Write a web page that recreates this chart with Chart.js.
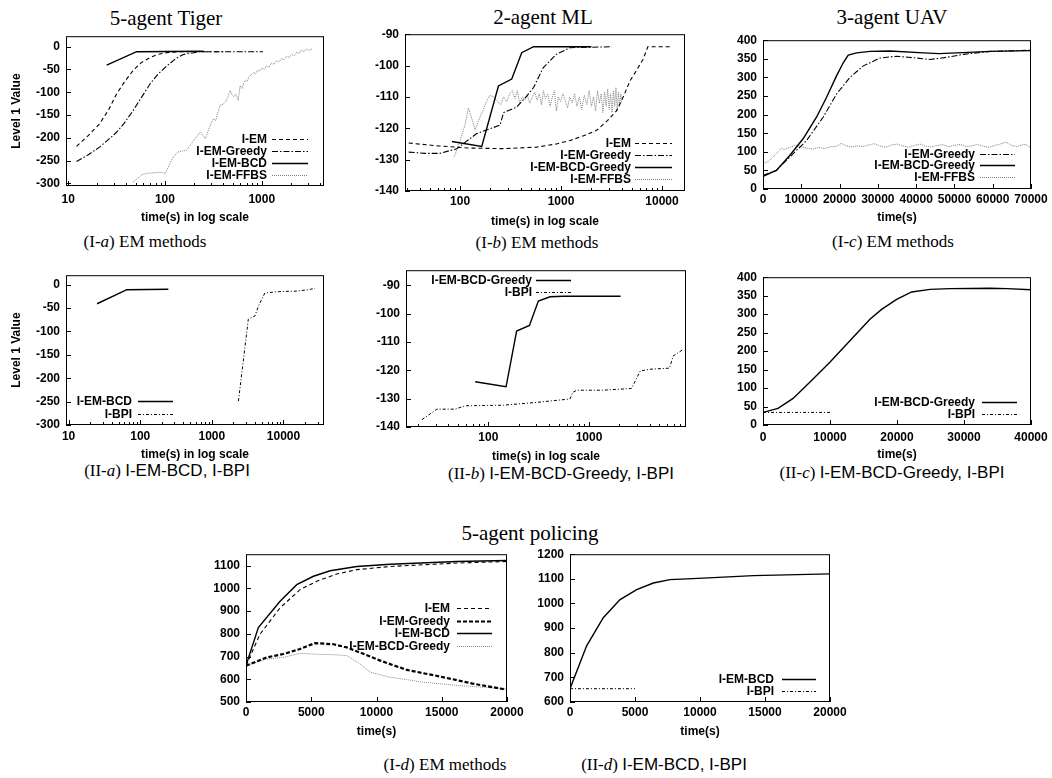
<!DOCTYPE html>
<html>
<head>
<meta charset="utf-8">
<script src="https://cdn.jsdelivr.net/npm/chart.js"></script>
<style>
html, body { margin: 0; padding: 0; background: #fff; }
#page { position: relative; width: 1052px; height: 778px; overflow: hidden; }
#page canvas { position: absolute; }
.ttl { position: absolute; font-family: "Liberation Serif", serif; font-size: 21px; white-space: nowrap; transform: translate(-50%, -50%); }
.cap { position: absolute; font-family: "Liberation Serif", serif; font-size: 17px; white-space: nowrap; transform: translate(-50%, -50%); }
.cap .s { font-family: "Liberation Sans", Arial, sans-serif; }
</style>
</head>
<body>
<div id="page">
  <div class="ttl" style="left:166px;top:18px">5-agent Tiger</div>
  <div class="ttl" style="left:543px;top:17px">2-agent ML</div>
  <div class="ttl" style="left:892px;top:17px">3-agent UAV</div>
  <div class="ttl" style="left:530px;top:533px">5-agent policing</div>

  <div class="cap" style="left:145px;top:242px">(I-<i>a</i>) EM methods</div>
  <div class="cap" style="left:537px;top:243px">(I-<i>b</i>) EM methods</div>
  <div class="cap" style="left:893px;top:242px">(I-<i>c</i>) EM methods</div>
  <div class="cap" style="left:167px;top:471px">(II-<i>a</i>) <span class="s">I-EM-BCD, I-BPI</span></div>
  <div class="cap" style="left:561px;top:474px">(II-<i>b</i>) <span class="s">I-EM-BCD-Greedy, I-BPI</span></div>
  <div class="cap" style="left:892px;top:473px">(II-<i>c</i>) <span class="s">I-EM-BCD-Greedy, I-BPI</span></div>
  <div class="cap" style="left:445px;top:765px">(I-<i>d</i>) EM methods</div>
  <div class="cap" style="left:664px;top:765px">(II-<i>d</i>) <span class="s">I-EM-BCD, I-BPI</span></div>
</div>
<script>
// ---- data: [time(s), level 1 value] ----

// (I-a) 5-agent Tiger
const tigerEM = [[12.2,-219],[16,-196],[21,-170],[26,-140],[31.6,-104],[38,-78],[47,-52],[57,-35],[70,-24],[85,-17],[105,-13],[140,-11],[400,-11]];
const tigerGreedy = [[12.2,-252],[16,-238],[21.3,-220],[26,-204],[31.6,-188],[38,-168],[47,-140],[57,-112],[70,-82],[85,-60],[105,-42],[130,-26],[155,-17],[230,-11],[1030,-11]];
const tigerBCD = [[25,-40.5],[51,-11],[250,-10]];
const tigerFFBS = [[47,-297],[52,-290],[58,-281],[66,-278],[78,-277],[90,-276],[101,-278],[112,-258],[122,-242],[135,-232],[150,-229],[167,-228],[180,-218],[200,-205],[222,-192],[235,-188],[248,-196],[262,-202],[280,-185],[300,-168],[318,-158],[335,-162],[352,-145],[372,-128],[395,-127],[420,-122],[445,-112],[472,-96],[495,-106],[515,-110],[540,-104],[573,-118],[597,-86],[625,-92],[650,-80],[680,-74],[710,-76],[740,-66],[780,-62],[818,-57],[860,-60],[900,-52],[950,-54],[1000,-47],[1060,-50],[1120,-42],[1190,-45],[1260,-36],[1340,-39],[1420,-31],[1500,-34],[1600,-26],[1700,-29],[1800,-21],[1920,-24],[2040,-17],[2170,-20],[2300,-12],[2440,-15],[2570,-7],[2720,-11],[2880,-5],[3050,-8],[3300,-5]];

// (I-b) 2-agent ML
const mlEM = [[31,-124.7],[60,-125.6],[120,-126.3],[270,-126.5],[575,-126],[900,-125],[1230,-123.9],[1700,-122.3],[2240,-120.7],[2900,-117.5],[3550,-114.4],[4200,-109.5],[4800,-105],[5600,-101.5],[6500,-98],[7240,-94],[12000,-94]];
const mlGreedy = [[31,-127.6],[45,-128],[63,-128],[93,-126.5],[146,-121.7],[249,-119],[270,-115],[363,-113.3],[450,-110],[535,-107],[665,-100.7],[900,-96.4],[1230,-94.3],[3200,-94]];
const mlBCDGreedy = [[83,-124.2],[164,-125.8],[240,-106.5],[325,-104.3],[408,-95.9],[535,-94],[2000,-94]];
const mlFFBS = [[88,-129],[100,-124],[112,-119],[121,-113.5],[131,-117],[141,-120.5],[155,-117],[170,-114],[185,-111],[198,-109.5],[215,-110],[235,-111.5],[252,-112.5],[270,-110],[290,-111.5],[310,-109],[330,-108],[350,-110.5],[370,-108],[390,-112],[415,-110],[440,-111],[465,-109.5],[490,-112],[520,-110],[550,-108.5],[580,-111],[610,-109],[640,-112.5],[670,-108],[700,-110.5],[740,-109],[780,-113],[820,-110],[860,-108],[900,-114.5],[940,-110],[990,-111.5],[1040,-109],[1100,-111],[1160,-113.5],[1220,-110],[1290,-112],[1360,-109],[1440,-113],[1520,-110],[1600,-114],[1700,-109.5],[1800,-112.5],[1900,-108],[2000,-113],[2100,-110],[2200,-114.5],[2300,-108],[2400,-112],[2500,-109],[2600,-115],[2700,-108.5],[2800,-113],[2900,-107.5],[3000,-114],[3100,-109],[3200,-115],[3300,-108],[3400,-113],[3500,-107],[3600,-114.5],[3700,-108.5],[3800,-113],[3900,-109],[4000,-112]];

// (I-c) 3-agent UAV
const uavGreedy = [[0,37],[3500,50],[7000,86],[11350,130],[15700,193],[19200,255],[22700,300],[26200,331],[30550,352],[34900,357],[40150,352],[43600,348],[48000,354],[52400,362],[59400,370],[70000,373]];
const uavBCDGreedy = [[0,34],[3490,50],[6980,90],[10470,135],[13970,193],[16580,246],[19200,304],[21000,340],[22260,360],[24440,366],[27930,370],[33170,371],[41900,366],[46000,364],[50630,366],[59360,370],[70000,372]];
const uavFFBS = [[0,68],[1500,75],[2600,86],[3800,98],[4800,110],[5500,106],[7000,112],[8500,118],[10000,113],[11500,110],[13100,107],[14500,112],[16000,109],[17500,113],[19200,115],[20500,123],[21500,117],[23000,113],[24500,116],[26000,114],[27500,118],[29000,122],[30500,116],[32000,112],[33500,118],[35000,121],[36500,116],[38000,112],[39500,117],[41000,121],[42500,115],[44000,113],[45500,117],[47000,119],[48500,114],[50000,117],[51500,120],[53000,114],[54500,116],[56000,120],[57500,115],[59000,112],[60500,117],[62000,121],[63500,126],[65000,117],[66500,114],[68000,120],[69000,118],[70000,110]];

// (II-a) Tiger, I-EM-BCD vs I-BPI
const tiger2BCD = [[25,-41],[65,-11],[247,-10]];
const tiger2BPI = [[2350,-249],[3230,-74],[4000,-67],[4470,-46],[5500,-18],[8900,-15],[15000,-14],[20000,-12],[24000,-10],[27600,-8]];

// (II-b) ML, I-EM-BCD-Greedy vs I-BPI
const ml2BCDGreedy = [[74,-124],[150,-125.8],[191,-106.1],[256,-104.1],[314,-95.5],[410,-94],[556,-93.8],[2060,-93.8]];
const ml2BPI = [[21.9,-137.4],[30.8,-133.7],[46.7,-133.7],[58.6,-132.5],[141,-132.3],[302,-131.3],[648,-130.1],[690,-127.8],[756,-127],[1380,-127],[2640,-126.4],[3230,-120.2],[4020,-119.6],[6300,-119.2],[6870,-114.9],[8700,-112.5]];

// (II-c) UAV, I-EM-BCD-Greedy vs I-BPI
const uav2BCDGreedy = [[0,34],[2240,45],[4490,72],[6980,116],[9980,170],[12970,228],[15960,286],[17700,313],[19950,340],[22190,360],[24940,367],[27930,369],[33900,370],[36400,369],[40000,366]];
const uav2BPI = [[0,34],[10000,34]];

// (I-d) 5-agent policing
const polEM = [[0,660],[1070,798],[2610,914],[4140,994],[5420,1031],[6960,1063],[8490,1082],[11050,1096],[16160,1111],[20000,1118]];
const polGreedy = [[0,660],[1590,696],[2860,711],[4140,733],[5290,759],[6700,754],[7720,740],[9260,706],[10280,682],[12330,641],[14880,612],[17440,580],[20000,554]];
const polBCD = [[0,660],[946,827],[2610,943],[3890,1016],[5170,1053],[6450,1077],[8490,1096],[11050,1106],[16160,1118],[20000,1122]];
const polBCDGreedy = [[0,660],[1590,689],[2860,696],[4140,714],[5420,710],[6700,708],[7720,704],[8750,667],[9510,631],[11050,609],[13600,587],[16160,573],[20000,558]];

// (II-d) policing, I-EM-BCD vs I-BPI
const pol2BCD = [[0,654],[1280,828],[2560,942],[3850,1016],[5130,1056],[6410,1083],[7690,1097],[10260,1103],[14100,1113],[20000,1120]];
const pol2BPI = [[0,654],[5000,654]];

// tick values
const tigerYTicks = [0, -50, -100, -150, -200, -250, -300];
const tigerXTicks = [10, 100, 1000];
const tiger2XTicks = [10, 100, 1000, 10000];
const mlYTicks = [-90, -100, -110, -120, -130, -140];
const mlXTicks = [100, 1000, 10000];
const ml2XTicks = [100, 1000];
const uavYTicks = [0, 50, 100, 150, 200, 250, 300, 350, 400];
const uavXTicks = [0, 10000, 20000, 30000, 40000, 50000, 60000, 70000];
const uav2XTicks = [0, 10000, 20000, 30000, 40000];
const polYTicks = [500, 600, 700, 800, 900, 1000, 1100];
const pol2YTicks = [600, 700, 800, 900, 1000, 1100, 1200];
const polXTicks = [0, 5000, 10000, 15000, 20000];

// ---- styles ----
const solid = { borderColor: '#000', borderWidth: 1.4, borderDash: [] };
const dashed = { borderColor: '#000', borderWidth: 1.1, borderDash: [4, 3] };
const dashDot = { borderColor: '#000', borderWidth: 1.1, borderDash: [6, 2, 1.5, 2] };
const dotted = { borderColor: '#808080', borderWidth: 1, borderDash: [1, 1] };
const bpiDash = { borderColor: '#000', borderWidth: 1, borderDash: [3, 2, 1, 2] };
const thickDash = { borderColor: '#000', borderWidth: 2.2, borderDash: [4, 2] };
const grayLine = { borderColor: '#8a8a8a', borderWidth: 1, borderDash: [1, 1] };

Chart.defaults.font.family = '"Liberation Sans", Arial, sans-serif';
Chart.defaults.font.weight = 'bold';
Chart.defaults.color = '#000';

// gnuplot-like frame, inward ticks and in-plot key
const gnuPlugin = {
  id: 'gnu',
  afterDatasetsDraw(chart, args, o) {
    const { ctx, chartArea: a } = chart;
    const x = chart.scales.x, y = chart.scales.y;
    ctx.save();
    ctx.strokeStyle = '#000';
    ctx.lineWidth = 1;
    ctx.setLineDash([]);
    ctx.beginPath();
    y.ticks.forEach(t => {
      const p = Math.round(y.getPixelForValue(t.value)) + 0.5;
      ctx.moveTo(a.left, p); ctx.lineTo(a.left + 5, p);
    });
    x.ticks.forEach(t => {
      const p = Math.round(x.getPixelForValue(t.value)) + 0.5;
      ctx.moveTo(p, a.bottom); ctx.lineTo(p, a.bottom - 5);
    });
    if (x.type === 'logarithmic') {
      for (let d = Math.floor(Math.log10(x.min)); d <= Math.ceil(Math.log10(x.max)); d++) {
        for (let m = 2; m <= 9; m++) {
          const v = m * Math.pow(10, d);
          if (v <= x.min || v >= x.max) continue;
          const p = Math.round(x.getPixelForValue(v)) + 0.5;
          ctx.moveTo(p, a.bottom); ctx.lineTo(p, a.bottom - 3);
        }
      }
    }
    ctx.stroke();
    ctx.strokeRect(a.left + 0.5, a.top + 0.5, a.right - a.left - 1, a.bottom - a.top - 1);

    const lg = o.legend;
    if (lg) {
      ctx.font = 'bold 12px "Liberation Sans", Arial, sans-serif';
      ctx.textAlign = 'right';
      ctx.textBaseline = 'middle';
      ctx.fillStyle = '#000';
      chart.data.datasets.forEach((ds, i) => {
        const yy = Math.round(lg.y + i * lg.dy) + 0.5;
        ctx.fillText(ds.label, lg.tx, yy);
        ctx.save();
        ctx.strokeStyle = ds.borderColor;
        ctx.lineWidth = ds.borderWidth;
        ctx.setLineDash(ds.borderDash || []);
        ctx.beginPath();
        ctx.moveTo(lg.x0, yy); ctx.lineTo(lg.x1, yy);
        ctx.stroke();
        ctx.restore();
      });
    }
    ctx.restore();
  }
};

const page = document.getElementById('page');

function makePanel(p) {
  const yw = p.yw, pt = 12, pr = 30;
  const xh = Math.round(p.xTitleY - p.B + 7);
  const left = p.L - yw, top = p.T - pt;
  const w = p.R - left + pr, h = p.B - top + xh;
  const cv = document.createElement('canvas');
  cv.width = w; cv.height = h;
  cv.style.left = left + 'px'; cv.style.top = top + 'px';
  cv.style.width = w + 'px'; cv.style.height = h + 'px';
  page.appendChild(cv);

  const datasets = p.series.map(s => Object.assign({
    label: s.label,
    data: s.data.map(([x, y]) => ({ x, y })),
    pointRadius: 0,
    tension: 0,
    fill: false
  }, s.style));

  const lg = p.legend;
  new Chart(cv, {
    type: 'line',
    data: { datasets },
    options: {
      responsive: false,
      animation: false,
      events: [],
      layout: { padding: { top: pt, right: pr, left: 0, bottom: 0 } },
      plugins: {
        legend: { display: false },
        tooltip: { enabled: false },
        gnu: {
          legend: {
            tx: lg.tx - left, x0: lg.x0 - left, x1: lg.x1 - left,
            y: lg.y - top, dy: lg.dy
          }
        }
      },
      scales: {
        x: {
          type: p.xLog ? 'logarithmic' : 'linear',
          min: p.xMin, max: p.xMax,
          grid: { display: false, drawTicks: false },
          border: { display: false },
          ticks: {
            padding: p.xTickY - p.B - 7.2,
            font: { size: 12, weight: 'bold' },
            color: '#000', autoSkip: false, maxRotation: 0,
            callback: v => String(v)
          },
          afterBuildTicks: s => { s.ticks = p.xTicks.map(v => ({ value: v })); },
          afterFit: s => { s.height = xh; },
          title: {
            display: true, text: p.xTitle,
            font: { size: 12, weight: 'bold' }, color: '#000',
            padding: { top: 0, bottom: 0 }
          }
        },
        y: {
          type: 'linear',
          min: p.yMin, max: p.yMax,
          grid: { display: false, drawTicks: false },
          border: { display: false },
          ticks: {
            padding: 6,
            font: { size: 12, weight: 'bold' },
            color: '#000', autoSkip: false,
            callback: v => String(v)
          },
          afterBuildTicks: s => { s.ticks = p.yTicks.map(v => ({ value: v })); },
          afterFit: s => { s.width = yw; },
          title: {
            display: !!p.yTitle, text: p.yTitle || '',
            font: { size: 12, weight: 'bold' }, color: '#000',
            padding: { top: p.yTitle ? p.yTitleX - left - 7.2 : 0, bottom: 0 }
          }
        }
      }
    },
    plugins: [gnuPlugin]
  });
}

const logTitle = 'time(s) in log scale';

makePanel({
  L: 66, T: 35, R: 324, B: 186, yw: 66, xTickY: 200, xTitleY: 218,
  xLog: true, xMin: 9.5, xMax: 4400, xTicks: tigerXTicks, xTitle: logTitle,
  yMin: -306, yMax: 23, yTicks: tigerYTicks, yTitle: 'Level 1 Value', yTitleX: 17,
  legend: { tx: 267, x0: 272, x1: 308, y: 139, dy: 12 },
  series: [
    { label: 'I-EM', data: tigerEM, style: dashed },
    { label: 'I-EM-Greedy', data: tigerGreedy, style: dashDot },
    { label: 'I-EM-BCD', data: tigerBCD, style: solid },
    { label: 'I-EM-FFBS', data: tigerFFBS, style: dotted }
  ]
});

makePanel({
  L: 405, T: 33, R: 685, B: 191, yw: 50, xTickY: 202, xTitleY: 222,
  xLog: true, xMin: 28.5, xMax: 16900, xTicks: mlXTicks, xTitle: logTitle,
  yMin: -140, yMax: -90, yTicks: mlYTicks,
  legend: { tx: 631, x0: 635, x1: 672, y: 143, dy: 12 },
  series: [
    { label: 'I-EM', data: mlEM, style: dashed },
    { label: 'I-EM-Greedy', data: mlGreedy, style: dashDot },
    { label: 'I-EM-BCD-Greedy', data: mlBCDGreedy, style: solid },
    { label: 'I-EM-FFBS', data: mlFFBS, style: dotted }
  ]
});

makePanel({
  L: 763, T: 39, R: 1031, B: 189, yw: 50, xTickY: 200, xTitleY: 218,
  xLog: false, xMin: 0, xMax: 70000, xTicks: uavXTicks, xTitle: 'time(s)',
  yMin: 0, yMax: 400, yTicks: uavYTicks,
  legend: { tx: 975, x0: 980, x1: 1015, y: 153.5, dy: 11.5 },
  series: [
    { label: 'I-EM-Greedy', data: uavGreedy, style: dashDot },
    { label: 'I-EM-BCD-Greedy', data: uavBCDGreedy, style: solid },
    { label: 'I-EM-FFBS', data: uavFFBS, style: dotted }
  ]
});

makePanel({
  L: 66, T: 274, R: 324, B: 425, yw: 66, xTickY: 437, xTitleY: 455,
  xLog: true, xMin: 9.2, xMax: 36800, xTicks: tiger2XTicks, xTitle: logTitle,
  yMin: -300, yMax: 20, yTicks: tigerYTicks, yTitle: 'Level 1 Value', yTitleX: 17,
  legend: { tx: 132, x0: 138, x1: 173, y: 401, dy: 13 },
  series: [
    { label: 'I-EM-BCD', data: tiger2BCD, style: solid },
    { label: 'I-BPI', data: tiger2BPI, style: bpiDash }
  ]
});

makePanel({
  L: 406, T: 269, R: 686, B: 427, yw: 50, xTickY: 438, xTitleY: 457,
  xLog: true, xMin: 15.2, xMax: 9200, xTicks: ml2XTicks, xTitle: logTitle,
  yMin: -140, yMax: -84.6, yTicks: mlYTicks,
  legend: { tx: 532, x0: 536, x1: 571, y: 280, dy: 12 },
  series: [
    { label: 'I-EM-BCD-Greedy', data: ml2BCDGreedy, style: solid },
    { label: 'I-BPI', data: ml2BPI, style: bpiDash }
  ]
});

makePanel({
  L: 763, T: 276, R: 1031, B: 425, yw: 50, xTickY: 438, xTitleY: 455,
  xLog: false, xMin: 0, xMax: 40000, xTicks: uav2XTicks, xTitle: 'time(s)',
  yMin: 0, yMax: 400, yTicks: uavYTicks,
  legend: { tx: 975, x0: 982, x1: 1017, y: 402, dy: 12 },
  series: [
    { label: 'I-EM-BCD-Greedy', data: uav2BCDGreedy, style: solid },
    { label: 'I-BPI', data: uav2BPI, style: bpiDash }
  ]
});

makePanel({
  L: 246, T: 553, R: 507, B: 702, yw: 50, xTickY: 713, xTitleY: 732,
  xLog: false, xMin: 0, xMax: 20000, xTicks: polXTicks, xTitle: 'time(s)',
  yMin: 500, yMax: 1150, yTicks: polYTicks,
  legend: { tx: 450, x0: 457, x1: 492, y: 608, dy: 12.5 },
  series: [
    { label: 'I-EM', data: polEM, style: dashed },
    { label: 'I-EM-Greedy', data: polGreedy, style: thickDash },
    { label: 'I-EM-BCD', data: polBCD, style: solid },
    { label: 'I-EM-BCD-Greedy', data: polBCDGreedy, style: grayLine }
  ]
});

makePanel({
  L: 570, T: 553, R: 830, B: 702, yw: 50, xTickY: 713, xTitleY: 732,
  xLog: false, xMin: 0, xMax: 20000, xTicks: polXTicks, xTitle: 'time(s)',
  yMin: 600, yMax: 1200, yTicks: pol2YTicks,
  legend: { tx: 774, x0: 782, x1: 816, y: 679, dy: 12 },
  series: [
    { label: 'I-EM-BCD', data: pol2BCD, style: solid },
    { label: 'I-BPI', data: pol2BPI, style: bpiDash }
  ]
});
</script>
</body>
</html>
